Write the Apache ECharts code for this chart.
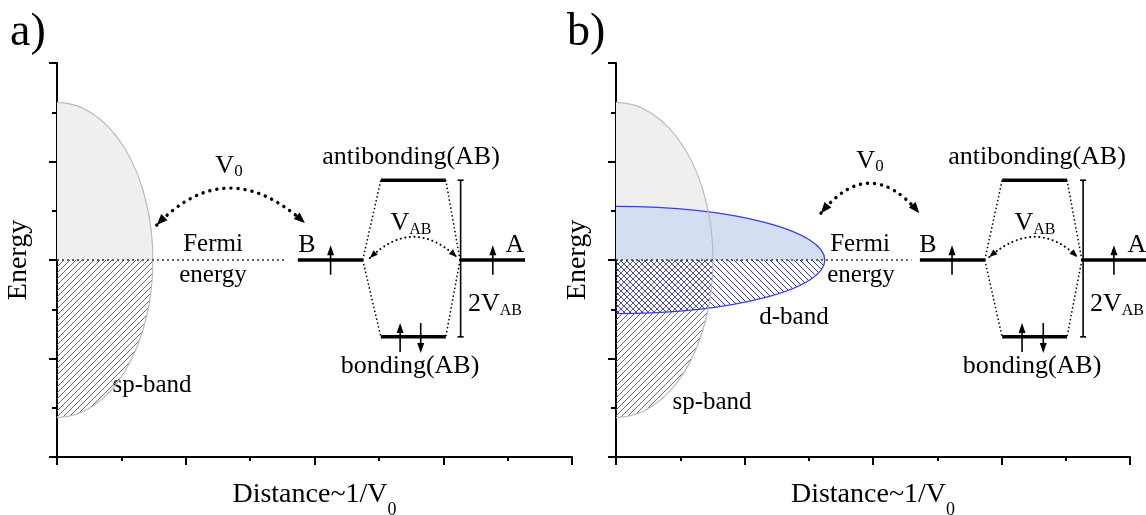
<!DOCTYPE html>
<html>
<head>
<meta charset="utf-8">
<script src="https://cdn.jsdelivr.net/npm/echarts@6/dist/echarts.min.js"></script>
<style>
  html, body { margin: 0; background: #fff; }
  #main { width: 1146px; height: 515px; }
</style>
</head>
<body>
<div id="main"></div>
<script>
const FONT = 'Liberation Serif';

// both panels: distance 0..8, energy 0..8, Fermi level at 4
const axisMin = 0, axisMax = 8, majorStep = 2;

// bands [centre x, centre y, half width, half height]
const spBandA = [[0, 4, 1.49, 3.2]];
const spBandB = [[0, 4, 1.51, 3.2]];
const dBandB = [[0, 4, 3.25, 1.09]];

// Fermi dotted line [x1, y1, x2, y2]
const fermiA = [[0, 4, 3.54, 4]];
const fermiB = [[0, 4, 4.6, 4]];

// levels B, A, antibonding, bonding [x1, y1, x2, y2]
const levelsA = [[3.74, 4, 4.75, 4], [6.26, 4, 7.27, 4], [5.03, 5.62, 6.04, 5.62], [5.03, 2.44, 6.04, 2.44]];
const levelsB = [[4.73, 4, 5.74, 4], [7.25, 4, 8.26, 4], [6.01, 5.62, 7.02, 5.62], [6.01, 2.44, 7.02, 2.44]];

// dotted links atomic -> molecular levels
const linksA = [[4.75, 4, 5.03, 5.62], [4.75, 4, 5.03, 2.44], [6.26, 4, 6.04, 5.62], [6.26, 4, 6.04, 2.44]];
const linksB = [[5.74, 4, 6.01, 5.62], [5.74, 4, 6.01, 2.44], [7.25, 4, 7.02, 5.62], [7.25, 4, 7.02, 2.44]];

// 2V_AB bar [x, low, high]
const splitA = [[6.27, 2.44, 5.62]];
const splitB = [[7.27, 2.44, 5.62]];

// spins [x, tail y, head y]
const spinsA = [[4.25, 3.7, 4.3], [6.77, 3.7, 4.3], [5.33, 2.13, 2.72], [5.65, 2.72, 2.11]];
const spinsB = [[5.23, 3.7, 4.3], [7.75, 3.7, 4.3], [6.32, 2.13, 2.72], [6.65, 2.72, 2.11]];

// double headed arcs [start x, start y, top x, top y, end x, end y]
const hopA = [[1.55, 4.71, 2.67, 5.46, 3.85, 4.75]];
const hopB = [[3.19, 4.95, 3.95, 5.56, 4.72, 4.95]];
const bondA = [[4.86, 4.04, 5.53, 4.47, 6.21, 4.06]];
const bondB = [[5.81, 4.06, 6.52, 4.47, 7.18, 4.06]];

function hatch(color, forward) {
  const n = 6, c = document.createElement('canvas');
  c.width = c.height = n;
  const g = c.getContext('2d');
  g.strokeStyle = color;
  g.lineWidth = 1;
  g.beginPath();
  for (let k = -1; k <= 1; k++) {
    if (forward) { g.moveTo(k * n, n); g.lineTo(k * n + n, 0); }
    else { g.moveTo(k * n, 0); g.lineTo(k * n + n, n); }
  }
  g.stroke();
  return { image: c, repeat: 'repeat' };
}
const greyHatch = hatch('#6a6a6a', true);
const blueHatch = hatch('#3030f0', false);

// part: 'up' | 'down' | 'edge'
function band(part, style) {
  return function (params, api) {
    const c = api.coord([api.value(0), api.value(1)]);
    const s = api.size([api.value(2), api.value(3)]);
    const rx = s[0], ry = s[1], x = c[0], y = c[1];
    let d;
    if (part === 'up') d = `M${x},${y - ry} A${rx},${ry} 0 0 1 ${x + rx},${y} L${x},${y} Z`;
    else if (part === 'down') d = `M${x + rx},${y} A${rx},${ry} 0 0 1 ${x},${y + ry} L${x},${y} Z`;
    else d = `M${x},${y - ry} A${rx},${ry} 0 0 1 ${x + rx},${y} A${rx},${ry} 0 0 1 ${x},${y + ry}`;
    return { type: 'path', shape: { pathData: d }, style: Object.assign({}, style) };
  };
}

function segs(style) {
  return function (params, api) {
    const a = api.coord([api.value(0), api.value(1)]);
    const b = api.coord([api.value(2), api.value(3)]);
    return { type: 'line', shape: { x1: a[0], y1: a[1], x2: b[0], y2: b[1] }, style: Object.assign({}, style) };
  };
}

function splitBar(params, api) {
  const a = api.coord([api.value(0), api.value(1)]);
  const b = api.coord([api.value(0), api.value(2)]);
  const st = { stroke: '#000', lineWidth: 1.6 };
  return { type: 'group', children: [
    { type: 'line', shape: { x1: a[0], y1: a[1], x2: b[0], y2: b[1] }, style: st },
    { type: 'line', shape: { x1: a[0] - 3, y1: a[1], x2: a[0] + 3, y2: a[1] }, style: st },
    { type: 'line', shape: { x1: b[0] - 3, y1: b[1], x2: b[0] + 3, y2: b[1] }, style: st }
  ] };
}

function spin(params, api) {
  const a = api.coord([api.value(0), api.value(1)]);
  const b = api.coord([api.value(0), api.value(2)]);
  const dir = b[1] > a[1] ? 1 : -1;
  return { type: 'group', children: [
    { type: 'line', shape: { x1: a[0], y1: a[1], x2: b[0], y2: b[1] - dir * 5 }, style: { stroke: '#000', lineWidth: 1.6 } },
    { type: 'polygon', shape: { points: [[b[0], b[1]], [b[0] - 3.5, b[1] - dir * 10], [b[0] + 3.5, b[1] - dir * 10]] }, style: { fill: '#000' } }
  ] };
}

function arc(width, dash, head) {
  return function (params, api) {
    const s = api.coord([api.value(0), api.value(1)]);
    const p = api.coord([api.value(2), api.value(3)]);
    const e = api.coord([api.value(4), api.value(5)]);
    const cp = [2 * p[0] - (s[0] + e[0]) / 2, 2 * p[1] - (s[1] + e[1]) / 2];
    const tip = (t) => {
      let ux = t[0] - cp[0], uy = t[1] - cp[1];
      const l = Math.hypot(ux, uy); ux /= l; uy /= l;
      const bx = t[0] - ux * head, by = t[1] - uy * head, w = head * 0.4;
      return { type: 'polygon', shape: { points: [[t[0], t[1]], [bx - uy * w, by + ux * w], [bx + uy * w, by - ux * w]] }, style: { fill: '#000' } };
    };
    return { type: 'group', children: [
      { type: 'bezierCurve', shape: { x1: s[0], y1: s[1], x2: e[0], y2: e[1], cpx1: cp[0], cpy1: cp[1] },
        style: { stroke: '#000', fill: null, lineWidth: width, lineDash: dash, lineCap: 'round' } },
      tip(s), tip(e)
    ] };
  };
}

function custom(i, data, renderItem, clip) {
  return { type: 'custom', xAxisIndex: i, yAxisIndex: i, data: data, renderItem: renderItem, clip: !!clip, silent: true };
}

function panelSeries(i, d) {
  const out = [
    custom(i, d.sp, band('up', { fill: '#efefef' }), true),
    custom(i, d.sp, band('down', { fill: greyHatch }), true)
  ];
  if (d.dband) {
    out.push(custom(i, d.dband, band('up', { fill: '#d4def2' }), true));
    out.push(custom(i, d.dband, band('down', { fill: blueHatch }), true));
    out.push(custom(i, d.dband, band('edge', { fill: null, stroke: '#3a3af5', lineWidth: 1.3 }), true));
  }
  out.push(custom(i, d.sp, band('edge', { fill: null, stroke: '#bbbbbb', lineWidth: 1.2 }), true));
  out.push(custom(i, d.fermi, segs({ stroke: '#333', lineWidth: 1.6, lineDash: [2, 3] })));
  out.push(custom(i, d.links, segs({ stroke: '#000', lineWidth: 1.5, lineDash: [1.5, 2.5] })));
  out.push(custom(i, d.levels, segs({ stroke: '#000', lineWidth: 3.5 })));
  out.push(custom(i, d.split, splitBar));
  out.push(custom(i, d.spins, spin));
  out.push(custom(i, d.hop, arc(3.4, [0.1, 7], 11)));
  out.push(custom(i, d.bond, arc(2, [0.1, 4.5], 8)));
  return out;
}

const subRich = (pad, size) => ({
  m: { fontSize: 26, fontFamily: FONT, color: '#000' },
  s: { fontSize: size, fontFamily: FONT, color: '#000', padding: [pad, 0, 0, 0] }
});

function xAx(i) {
  return {
    gridIndex: i, type: 'value', min: axisMin, max: axisMax, interval: majorStep,
    axisLine: { onZero: false, lineStyle: { color: '#000', width: 2 } },
    axisTick: { length: 8, lineStyle: { color: '#000', width: 2 } },
    minorTick: { show: true, splitNumber: 2, length: 4, lineStyle: { color: '#000', width: 2 } },
    axisLabel: { show: false }, splitLine: { show: false }, minorSplitLine: { show: false },
    name: '{m|Distance~1/V}{s|0}', nameLocation: 'middle', nameGap: 14,
    nameTextStyle: { rich: { m: { fontSize: 28, fontFamily: FONT, color: '#000' }, s: { fontSize: 18, fontFamily: FONT, color: '#000', padding: [30, 0, 0, 0] } } }
  };
}
function yAx(i) {
  return {
    gridIndex: i, type: 'value', min: axisMin, max: axisMax, interval: majorStep,
    axisLine: { onZero: false, lineStyle: { color: '#000', width: 2 } },
    axisTick: { length: 8, lineStyle: { color: '#000', width: 2 } },
    minorTick: { show: true, splitNumber: 2, length: 5, lineStyle: { color: '#000', width: 2 } },
    axisLabel: { show: false }, splitLine: { show: false }, minorSplitLine: { show: false },
    name: 'Energy', nameLocation: 'middle', nameGap: 24,
    nameTextStyle: { fontSize: 28, fontFamily: FONT, color: '#000' }
  };
}

function txt(x, y, text, size, align, rich) {
  const el = { type: 'text', x: x, y: y, silent: true,
    style: { text: text, fontSize: size, fontFamily: FONT, fill: '#000', align: align || 'center', verticalAlign: 'middle' } };
  if (rich) el.style.rich = rich;
  return el;
}

const texts = [
  txt(10, 33, 'a)', 46, 'left'),
  txt(229, 166, '{m|V}{s|0}', 26, 'center', subRich(12, 17)),
  txt(411, 157, 'antibonding(AB)', 26),
  txt(213, 244, 'Fermi', 25),
  txt(213, 275, 'energy', 25),
  txt(307, 245, 'B', 26),
  txt(515, 245, 'A', 26),
  txt(411, 223, '{m|V}{s|AB}', 26, 'center', subRich(14, 16)),
  txt(468, 304, '{m|2V}{s|AB}', 26, 'left', subRich(14, 16)),
  txt(410, 366, 'bonding(AB)', 26),
  txt(152, 385, 'sp-band', 25),

  txt(567, 33, 'b)', 46, 'left'),
  txt(870, 161, '{m|V}{s|0}', 26, 'center', subRich(12, 17)),
  txt(1037, 157, 'antibonding(AB)', 26),
  txt(860, 244, 'Fermi', 25),
  txt(861, 275, 'energy', 25),
  txt(928, 245, 'B', 26),
  txt(1137, 245, 'A', 26),
  txt(1035, 223, '{m|V}{s|AB}', 26, 'center', subRich(14, 16)),
  txt(1090, 304, '{m|2V}{s|AB}', 26, 'left', subRich(14, 16)),
  txt(1032, 366, 'bonding(AB)', 26),
  txt(794, 317, 'd-band', 25),
  txt(712, 402, 'sp-band', 25)
];

const chart = echarts.init(document.getElementById('main'));
chart.setOption({
  animation: false,
  backgroundColor: '#fff',
  grid: [
    { left: 57, top: 63, width: 515, height: 394, outerBoundsMode: 'none' },
    { left: 616, top: 63, width: 514, height: 394, outerBoundsMode: 'none' }
  ],
  xAxis: [xAx(0), xAx(1)],
  yAxis: [yAx(0), yAx(1)],
  series: panelSeries(0, { sp: spBandA, fermi: fermiA, levels: levelsA, links: linksA, split: splitA, spins: spinsA, hop: hopA, bond: bondA })
    .concat(panelSeries(1, { sp: spBandB, dband: dBandB, fermi: fermiB, levels: levelsB, links: linksB, split: splitB, spins: spinsB, hop: hopB, bond: bondB })),
  graphic: texts
});
</script>
</body>
</html>
